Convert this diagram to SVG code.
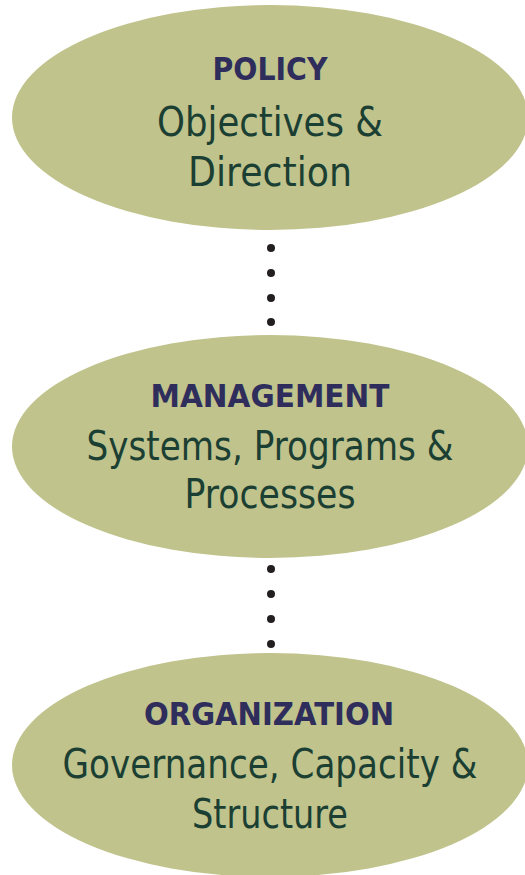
<svg xmlns="http://www.w3.org/2000/svg" width="525" height="875" viewBox="0 0 525 875">
<style>
.node ellipse{fill:#c0c38c}
.t{font-family:"DejaVu Sans","Open Sans",sans-serif;font-weight:700;font-size:32px;fill:#2e2d5b;text-anchor:middle}
.b{font-family:"DejaVu Sans","Open Sans",sans-serif;font-size:40px;fill:#1b3f33;text-anchor:middle}
.dot{fill:#231f20}
</style>
<rect width="525" height="875" fill="#ffffff"/>
<g id="connectors">
<circle class="dot" cx="271" cy="248" r="4"/>
<circle class="dot" cx="271" cy="273" r="4"/>
<circle class="dot" cx="271" cy="298" r="4"/>
<circle class="dot" cx="271" cy="322" r="4"/>
<circle class="dot" cx="271" cy="569" r="4"/>
<circle class="dot" cx="271" cy="594" r="4"/>
<circle class="dot" cx="271" cy="619" r="4"/>
<circle class="dot" cx="271" cy="644" r="4"/>
</g>
<g id="policy" class="node">
<ellipse cx="270" cy="117.5" rx="258" ry="112.5"/>
<text class="t" x="270" y="79.5" textLength="115" lengthAdjust="spacingAndGlyphs">POLICY</text>
<text class="b" x="270" y="135.5" textLength="226" lengthAdjust="spacingAndGlyphs">Objectives &amp;</text>
<text class="b" x="270" y="185.5" textLength="164" lengthAdjust="spacingAndGlyphs">Direction</text>
</g>
<g id="management" class="node">
<ellipse cx="270" cy="446.5" rx="258" ry="111.5"/>
<text class="t" x="270" y="407" textLength="239" lengthAdjust="spacingAndGlyphs">MANAGEMENT</text>
<text class="b" x="270" y="460" textLength="367" lengthAdjust="spacingAndGlyphs">Systems, Programs &amp;</text>
<text class="b" x="270" y="508" textLength="171" lengthAdjust="spacingAndGlyphs">Processes</text>
</g>
<g id="organization" class="node">
<ellipse cx="270" cy="765" rx="258" ry="112"/>
<text class="t" x="269" y="725" textLength="250" lengthAdjust="spacingAndGlyphs">ORGANIZATION</text>
<text class="b" x="270" y="778" textLength="415" lengthAdjust="spacingAndGlyphs">Governance, Capacity &amp;</text>
<text class="b" x="270" y="827.5" textLength="156" lengthAdjust="spacingAndGlyphs">Structure</text>
</g>
</svg>
